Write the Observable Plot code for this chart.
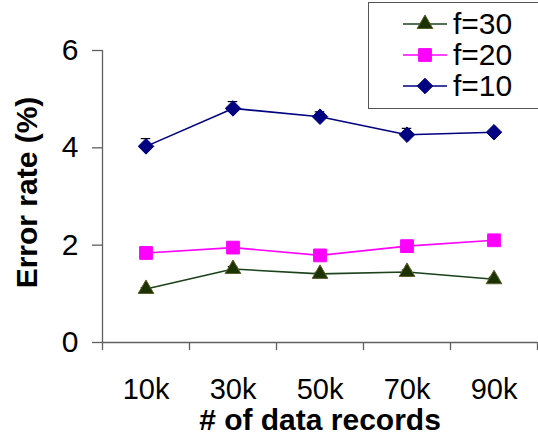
<!DOCTYPE html>
<html>
<head>
<meta charset="utf-8">
<script src="https://cdn.jsdelivr.net/npm/d3@7"></script>
<script src="https://cdn.jsdelivr.net/npm/@observablehq/plot@0.6"></script>
<style>
  html, body { margin: 0; padding: 0; background: #fff; }
  #wrap { position: relative; width: 538px; height: 442px; overflow: hidden; font-family: "Liberation Sans", Arial, sans-serif; }
  #legend { position: absolute; left: 368px; top: 2px; width: 176px; height: 107px; border: 1.5px solid #555; background: #fff; box-sizing: border-box; padding-top: 5px; }
  .item { display: flex; align-items: center; height: 31px; }
  .item svg { margin-left: 34px; margin-right: 6px; }
  .item span { font-size: 30px; line-height: 31px; color: #000; }
</style>
</head>
<body>
<div id="wrap"></div>
<script>
// ---- data ----
const records = [10, 30, 50, 70, 90];
const recordLabels = ["10k", "30k", "50k", "70k", "90k"];
const recordEdges = [0, 20, 40, 60, 80, 100];
const series = ["f=30", "f=20", "f=10"];
const f30 = [1.10, 1.51, 1.41, 1.45, 1.30];
const f20 = [1.84, 1.95, 1.79, 1.98, 2.10];
const f10 = [4.03, 4.81, 4.64, 4.27, 4.32];
const err30 = [0.03, 0.05, 0.03, 0.04, 0.04];
const err20 = [0.03, 0.03, 0.03, 0.03, 0.03];
const err10 = [0.16, 0.14, 0.10, 0.13, 0.04];
const yTicks = [0, 2, 4, 6];
const yTitle = "Error rate (%)";
const xTitle = "# of data records";

const lineColors = ["#1c421c", "#ff00ff", "#000080"];
const markFill = ["#1a3300", "#ff00ff", "#000080"];
const markStroke = ["#5c5c29", "#ff00ff", "#000080"];
const symbols = ["triangle", "square", "diamond2"];
const radii = [5.8, 7.2, 7.0];

const values = [f30, f20, f10];
const errs = [err30, err20, err10];
const rows = [];
series.forEach((s, k) => records.forEach((x, i) => rows.push({series: s, k, x, v: values[k][i], e: errs[k][i]})));

const axisColor = "#606060";
const font = "Liberation Sans, Arial, sans-serif";

const plot = Plot.plot({
  width: 538,
  height: 442,
  marginLeft: 102,
  marginRight: 1,
  marginTop: 50,
  marginBottom: 100,
  style: {fontFamily: font, color: "#000", background: "#fff", overflow: "visible"},
  x: {domain: [0, 100]},
  y: {domain: [0, 6]},
  color: {domain: series, range: lineColors},
  marks: [
    Plot.ruleY([0], {stroke: axisColor, strokeWidth: 1.3}),
    Plot.ruleX([0], {stroke: axisColor, strokeWidth: 1.3}),
    Plot.axisY({ticks: yTicks, tickSize: 10, tickPadding: 14, fontSize: 30, label: null, tickFormat: d => String(d), stroke: axisColor, strokeWidth: 1.3}),
    Plot.axisX({ticks: recordEdges, tickSize: 8, tickFormat: () => "", label: null, stroke: axisColor, strokeWidth: 1.3}),
    Plot.axisX({ticks: records, tickSize: 0, tickPadding: 36, fontSize: 29, label: null, tickFormat: (d) => recordLabels[records.indexOf(d)]}),
    Plot.text([yTitle], {frameAnchor: "left", rotate: -90, dx: -75, dy: -4, textAnchor: "middle", lineAnchor: "middle", fontSize: 30, fontWeight: "bold", fill: "#000"}),
    Plot.text([xTitle], {frameAnchor: "bottom", dy: 78, textAnchor: "middle", lineAnchor: "middle", fontSize: 30, fontWeight: "bold", fill: "#000"}),
    Plot.ruleX(rows, {x: "x", y1: "v", y2: d => d.v + d.e, stroke: "#000", strokeWidth: 1}),
    Plot.ruleY(rows, {y: d => d.v + d.e, x1: d => d.x - 1.1, x2: d => d.x + 1.1, stroke: "#000", strokeWidth: 1.2}),
    Plot.line(rows, {x: "x", y: "v", z: "series", stroke: "series", strokeWidth: 1.6}),
    ...series.map((s, k) => Plot.dot(rows.filter(d => d.k === k), {
      x: "x", y: "v", symbol: symbols[k], r: radii[k], fill: markFill[k], stroke: markStroke[k], strokeWidth: 1, fillOpacity: 1
    }))
  ]
});
document.getElementById("wrap").appendChild(plot);

// legend (HTML, samples drawn with d3 symbols)
const legend = document.createElement("div");
legend.id = "legend";
const symFns = {triangle: d3.symbolTriangle, square: d3.symbolSquare, diamond2: d3.symbolDiamond2};
series.forEach((s, k) => {
  const item = document.createElement("div");
  item.className = "item";
  const svg = d3.create("svg").attr("width", 44).attr("height", 20);
  svg.append("line").attr("x1", 0).attr("x2", 44).attr("y1", 10).attr("y2", 10)
    .attr("stroke", lineColors[k]).attr("stroke-width", 1.6);
  svg.append("path").attr("transform", "translate(22,10)")
    .attr("d", d3.symbol(symFns[symbols[k]], Math.PI * radii[k] * radii[k])())
    .attr("fill", markFill[k]).attr("stroke", markStroke[k]);
  item.appendChild(svg.node());
  const t = document.createElement("span");
  t.textContent = s;
  item.appendChild(t);
  legend.appendChild(item);
});
document.getElementById("wrap").appendChild(legend);
</script>
</body>
</html>
